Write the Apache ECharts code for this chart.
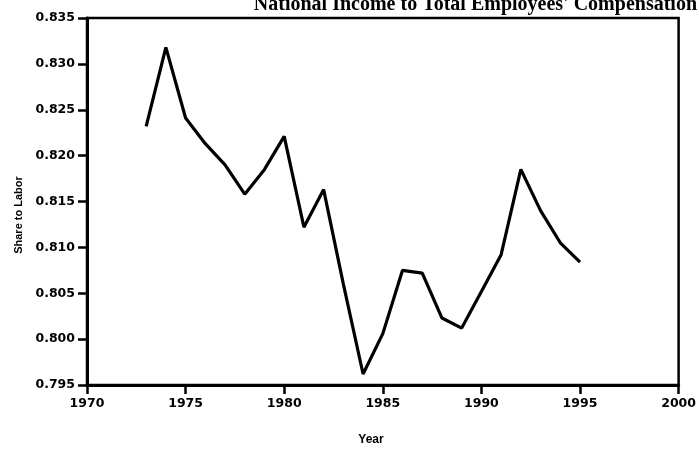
<!DOCTYPE html>
<html>
<head>
<meta charset="utf-8">
<title>Share to Labor</title>
<script src="https://cdn.jsdelivr.net/npm/echarts@6/dist/echarts.min.js"></script>
<style>
  html, body { margin: 0; padding: 0; background: #fff; }
  #chart { width: 699px; height: 458px; }
</style>
</head>
<body>
<div id="chart"></div>
<script>
// data
var years = [1973, 1974, 1975, 1976, 1977, 1978, 1979, 1980, 1981, 1982, 1983, 1984,
             1985, 1986, 1987, 1988, 1989, 1990, 1991, 1992, 1993, 1994, 1995];
var shareToLabor = [0.8232, 0.8318, 0.8241, 0.8213, 0.8190, 0.8158, 0.8185, 0.8221,
                    0.8122, 0.8163, 0.8060, 0.7962, 0.8006, 0.8075, 0.8072, 0.8023,
                    0.8012, 0.8052, 0.8092, 0.8185, 0.8140, 0.8105, 0.8084];
var yTicks = [0.795, 0.800, 0.805, 0.810, 0.815, 0.820, 0.825, 0.830, 0.835];
var xTicks = [1970, 1975, 1980, 1985, 1990, 1995, 2000];
var titleText = "National Income to Total Employees' Compensation";

var points = [];
for (var i = 0; i < years.length; i++) {
    points.push([years[i], shareToLabor[i]]);
}

var myChart = echarts.init(document.getElementById('chart'));
var labelFont = 'DejaVu Sans';
var option = {
    backgroundColor: '#fff',
    animation: false,
    grid: {
        left: 87,
        right: 17,
        top: 18,
        bottom: 73,
        show: true,
        borderColor: '#000',
        borderWidth: 2.5
    },
    xAxis: {
        type: 'value',
        min: xTicks[0],
        max: xTicks[xTicks.length - 1],
        interval: 5,
        axisLine: { show: true, lineStyle: { color: '#000', width: 3 } },
        axisTick: { show: true, inside: false, length: 9, lineStyle: { color: '#000', width: 2.5 } },
        axisLabel: {
            margin: 12,
            color: '#000',
            fontFamily: labelFont,
            fontWeight: 'bold',
            fontSize: 12.5,
            formatter: function (v) { return String(v); }
        },
        splitLine: { show: false }
    },
    yAxis: {
        type: 'value',
        min: yTicks[0],
        max: yTicks[yTicks.length - 1],
        interval: 0.005,
        axisLine: { show: true, lineStyle: { color: '#000', width: 3 } },
        axisTick: { show: true, inside: false, length: 9, lineStyle: { color: '#000', width: 2.5 } },
        axisLabel: {
            margin: 12,
            color: '#000',
            fontFamily: labelFont,
            fontWeight: 'bold',
            fontSize: 12.5,
            formatter: function (v) { return v.toFixed(3); }
        },
        splitLine: { show: false }
    },
    graphic: [
        {
            // title is cut off by the top edge in the original scan
            type: 'text',
            x: 697,
            y: 15,
            style: {
                text: titleText,
                fill: '#000',
                align: 'right',
                verticalAlign: 'bottom',
                font: 'bold 20px "Liberation Serif"'
            }
        },
        {
            type: 'text',
            x: 371,
            y: 440,
            style: {
                text: 'Year',
                fill: '#000',
                align: 'center',
                verticalAlign: 'middle',
                font: 'bold 12px "Liberation Sans"'
            }
        },
        {
            type: 'text',
            x: 19,
            y: 215,
            rotation: Math.PI / 2,
            style: {
                text: 'Share to Labor',
                fill: '#000',
                align: 'center',
                verticalAlign: 'middle',
                font: 'bold 11px "Liberation Sans"'
            }
        }
    ],
    series: [
        {
            name: 'Share to Labor',
            type: 'line',
            data: points,
            showSymbol: false,
            lineStyle: { color: '#000', width: 3.2 },
            silent: true
        }
    ]
};
myChart.setOption(option);
</script>
</body>
</html>
